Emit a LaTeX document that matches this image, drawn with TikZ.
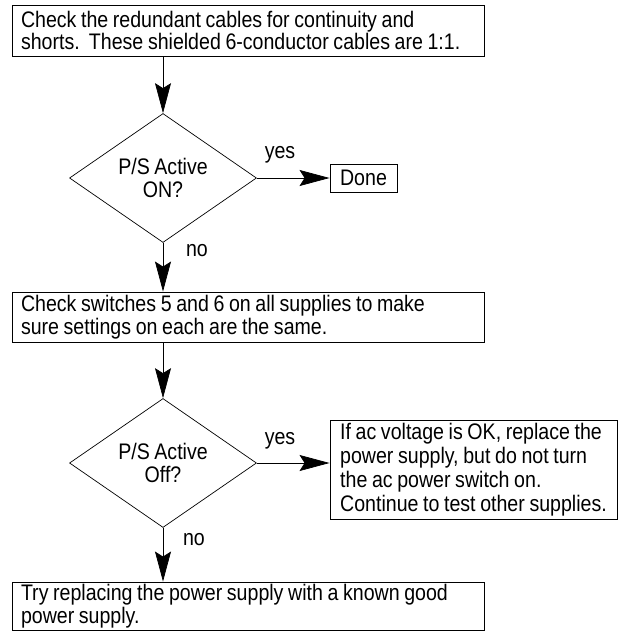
\documentclass[tikz,border=0pt]{standalone}
\usepackage{fontspec}
\setmainfont{Liberation Sans}[FakeStretch=0.87,WordSpace=0.85]
\usetikzlibrary{arrows.meta}
\usetikzlibrary{shapes.geometric}

\begin{document}
\begin{tikzpicture}[x=1pt,y=-1pt,font=\fontsize{22.5}{22.5}\selectfont,
	box/.style={draw,line width=0.9pt,inner xsep=9pt,inner ysep=0pt,align=flush left},
	test/.style={draw,diamond,line width=0.7pt,inner sep=0pt,minimum width=187pt,minimum height=129pt,align=center},
	arr/.style={line width=0.7pt,-{Stealth[length=30pt,width=16pt,inset=5pt]}}]
	\useasboundingbox (0,0) rectangle (623,632);
	% steps and tests
	\node[box,text width=454pt,minimum height=51pt] (cables) at (248,30.5) {Check the redundant cables for continuity and\\shorts.\ \ These shielded 6-conductor cables are 1:1.};
	\node[test] (active on) at (163,178) {P/S Active\\ON?};
	\node[box,inner xsep=4pt,minimum width=67pt,minimum height=28pt] (done) at (363.5,178) {Done};
	\node[box,text width=454pt,minimum height=50pt] (switches) at (248,317) {Check switches 5 and 6 on all supplies to make\\sure settings on each are the same.};
	\node[test] (active off) at (163,463) {P/S Active\\Off?};
	\node[box,inner xsep=8pt,minimum width=287pt,minimum height=99pt,font=\fontsize{22.5}{24}\selectfont] (replace) at (473.5,469.5) {If ac voltage is OK, replace the\\power supply, but do not turn\\the ac power switch on.\\Continue to test other supplies.};
	\node[box,text width=454pt,minimum height=48pt] (known good) at (248,606) {Try replacing the power supply with a known good\\power supply.};
	% answers
	\node (yes on) at (280,155) {yes};
	\node (no on) at (197,251) {no};
	\node (yes off) at (280,441) {yes};
	\node (no off) at (194,540) {no};
	% arrows
	\draw[arr] (active on.north |- cables.south) -- (active on.north);
	\draw[arr] (active on.east) -- (done.west);
	\draw[arr] (active on.south) -- (active on.south |- switches.north);
	\draw[arr] (active off.north |- switches.south) -- (active off.north);
	\draw[arr] (active off.east) -- (replace.west |- active off.east);
	\draw[arr] (active off.south) -- (active off.south |- known good.north);
\end{tikzpicture}
\end{document}
